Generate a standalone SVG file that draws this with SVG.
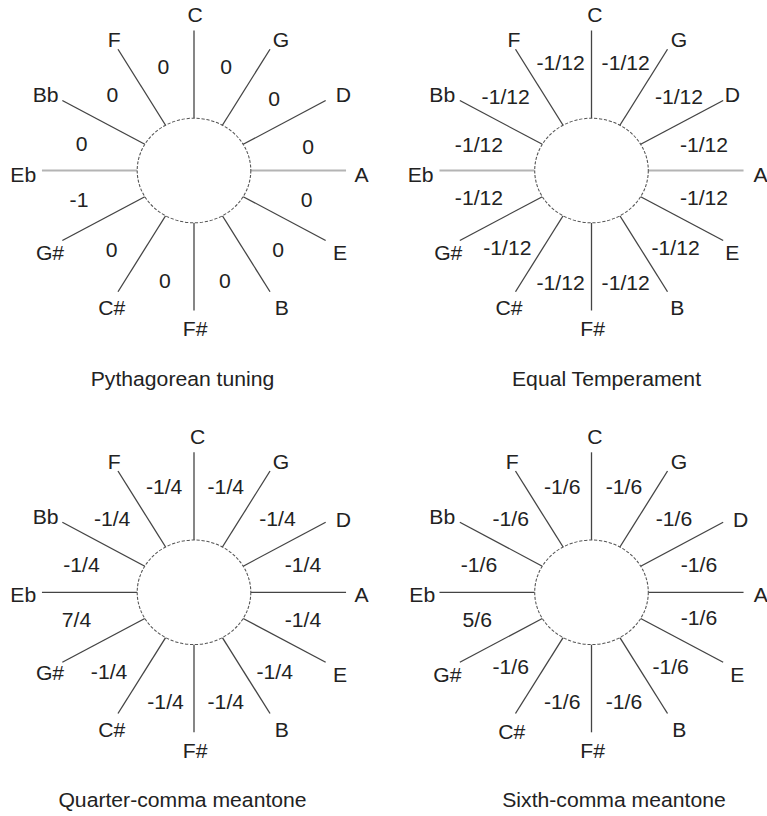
<svg xmlns="http://www.w3.org/2000/svg" width="767" height="816" viewBox="0 0 767 816">
  <style>
    text { font-family: "Liberation Sans", Arial, sans-serif; font-size: 19.5px; fill: #222; text-anchor: middle; }
    .hub { fill: #fff; stroke: #555; stroke-width: 1; stroke-dasharray: 3 1.6; }
    .spoke { stroke: #444; stroke-width: 1.2; fill: none; }
    .axis-light { stroke: #b4b4b4; stroke-width: 2.2; fill: none; }
    .axis-dark { stroke: #444; stroke-width: 1.2; fill: none; }
  </style>
  <defs>
    <!-- eleven spokes of the circle of fifths (the Eb–A axis is drawn separately) -->
    <g id="spokes">
      <line x1="0" y1="-52.3" x2="0" y2="-140"/>
      <line x1="26.15" y1="-45.29" x2="70" y2="-121.24"/>
      <line x1="45.29" y1="-26.15" x2="121.24" y2="-70"/>
      <line x1="45.29" y1="26.15" x2="121.24" y2="70"/>
      <line x1="26.15" y1="45.29" x2="70" y2="121.24"/>
      <line x1="0" y1="52.3" x2="0" y2="140"/>
      <line x1="-26.15" y1="45.29" x2="-70" y2="121.24"/>
      <line x1="-45.29" y1="26.15" x2="-121.24" y2="70"/>
      <line x1="-45.29" y1="-26.15" x2="-121.24" y2="-70"/>
      <line x1="-26.15" y1="-45.29" x2="-70" y2="-121.24"/>
    </g>
    <path id="axis" d="M-140 0H-52.3M52.3 0H140"/>
  </defs>

  <!-- Pythagorean tuning -->
  <g id="pythagorean" transform="translate(194 170.5) scale(1.086 1)">
    <g class="connectors">
      <use href="#spokes" class="spoke"/>
      <use href="#axis" class="axis-light"/>
    </g>
    <circle class="hub" r="52.3"/>
    <g class="notes">
      <text x="1" y="-149">C</text>
      <text x="-73.4" y="-123.8">F</text>
      <text x="80.1" y="-123.8">G</text>
      <text x="-136.6" y="-68.8">Bb</text>
      <text x="137.5" y="-68.8">D</text>
      <text x="-157.2" y="11.2">Eb</text>
      <text x="154.4" y="11.2">A</text>
      <text x="-132.6" y="89.5">G#</text>
      <text x="134.4" y="89.5">E</text>
      <text x="-75.8" y="144.5">C#</text>
      <text x="80.8" y="144.5">B</text>
      <text x="1" y="166">F#</text>
    </g>
    <g class="fifths">
      <text x="-28.3" y="-96.8">0</text>
      <text x="29.5" y="-96.8">0</text>
      <text x="-75.2" y="-68.5">0</text>
      <text x="73.9" y="-65">0</text>
      <text x="-103.4" y="-20">0</text>
      <text x="105.2" y="-16.8">0</text>
      <text x="-105.9" y="36.5">-1</text>
      <text x="103.8" y="36.5">0</text>
      <text x="-75.8" y="86.5">0</text>
      <text x="77.6" y="86.5">0</text>
      <text x="-26.7" y="117.5">0</text>
      <text x="28.5" y="117.5">0</text>
    </g>
  </g>

  <!-- Equal temperament -->
  <g id="equal" transform="translate(591.5 170.5) scale(1.086 1)">
    <g class="connectors">
      <use href="#spokes" class="spoke"/>
      <use href="#axis" class="axis-light"/>
    </g>
    <circle class="hub" r="52.3"/>
    <g class="notes">
      <text x="3.2" y="-149">C</text>
      <text x="-71.4" y="-123.8">F</text>
      <text x="80.6" y="-123.8">G</text>
      <text x="-137.4" y="-68.8">Bb</text>
      <text x="129.7" y="-68.8">D</text>
      <text x="-157.3" y="11.2">Eb</text>
      <text x="155.6" y="11.2">A</text>
      <text x="-131.9" y="89.5">G#</text>
      <text x="129.7" y="89.5">E</text>
      <text x="-76" y="144.5">C#</text>
      <text x="79" y="144.5">B</text>
      <text x="1" y="166">F#</text>
    </g>
    <g class="fifths">
      <text x="-28.4" y="-100.2">-1/12</text>
      <text x="31.5" y="-100.2">-1/12</text>
      <text x="-79" y="-66.8">-1/12</text>
      <text x="80.6" y="-66.8">-1/12</text>
      <text x="-103.6" y="-18.5">-1/12</text>
      <text x="103.6" y="-18.5">-1/12</text>
      <text x="-103.6" y="34.8">-1/12</text>
      <text x="103.6" y="34.8">-1/12</text>
      <text x="-77.5" y="84.8">-1/12</text>
      <text x="77.5" y="84.8">-1/12</text>
      <text x="-28.4" y="119.8">-1/12</text>
      <text x="31.5" y="119.8">-1/12</text>
    </g>
  </g>

  <!-- Quarter-comma meantone -->
  <g id="quarter-comma" transform="translate(194 592.3) scale(1.086 1)">
    <g class="connectors">
      <use href="#spokes" class="spoke"/>
      <use href="#axis" class="axis-dark"/>
    </g>
    <circle class="hub" r="52.3"/>
    <g class="notes">
      <text x="3.4" y="-148.6">C</text>
      <text x="-73.4" y="-123.6">F</text>
      <text x="80.1" y="-123.6">G</text>
      <text x="-136.6" y="-68.6">Bb</text>
      <text x="137.5" y="-65.3">D</text>
      <text x="-157.2" y="9.7">Eb</text>
      <text x="154.4" y="9.7">A</text>
      <text x="-132.6" y="88">G#</text>
      <text x="134.4" y="89.7">E</text>
      <text x="-75.8" y="144.5">C#</text>
      <text x="80.8" y="144.5">B</text>
      <text x="1" y="166">F#</text>
    </g>
    <g class="fifths">
      <text x="-27.5" y="-98">-1/4</text>
      <text x="29.3" y="-98">-1/4</text>
      <text x="-75.4" y="-66">-1/4</text>
      <text x="76.9" y="-66">-1/4</text>
      <text x="-103.6" y="-20.3">-1/4</text>
      <text x="100.4" y="-20.3">-1/4</text>
      <text x="-108.2" y="34.7">7/4</text>
      <text x="100.4" y="34.7">-1/4</text>
      <text x="-78.2" y="86.4">-1/4</text>
      <text x="74.4" y="86.4">-1/4</text>
      <text x="-26.2" y="116.4">-1/4</text>
      <text x="29.3" y="116.4">-1/4</text>
    </g>
  </g>

  <!-- Sixth-comma meantone -->
  <g id="sixth-comma" transform="translate(591.5 592.3) scale(1.086 1)">
    <g class="connectors">
      <use href="#spokes" class="spoke"/>
      <use href="#axis" class="axis-dark"/>
    </g>
    <circle class="hub" r="52.3"/>
    <g class="notes">
      <text x="3.2" y="-148.6">C</text>
      <text x="-72.9" y="-123.6">F</text>
      <text x="80.6" y="-123.6">G</text>
      <text x="-137.4" y="-68.6">Bb</text>
      <text x="137.4" y="-65.3">D</text>
      <text x="-155.8" y="9.7">Eb</text>
      <text x="155.8" y="9.7">A</text>
      <text x="-132.8" y="89.7">G#</text>
      <text x="134.3" y="89.7">E</text>
      <text x="-73.5" y="146.4">C#</text>
      <text x="80.8" y="144.5">B</text>
      <text x="1" y="166">F#</text>
    </g>
    <g class="fifths">
      <text x="-26.9" y="-98">-1/6</text>
      <text x="29.9" y="-98">-1/6</text>
      <text x="-74.4" y="-66">-1/6</text>
      <text x="76" y="-66">-1/6</text>
      <text x="-103.6" y="-20.3">-1/6</text>
      <text x="99" y="-20.3">-1/6</text>
      <text x="-105.2" y="34.7">5/6</text>
      <text x="99" y="33">-1/6</text>
      <text x="-74.4" y="81.4">-1/6</text>
      <text x="72.9" y="81.4">-1/6</text>
      <text x="-26.9" y="116.4">-1/6</text>
      <text x="29.9" y="116.4">-1/6</text>
    </g>
  </g>

  <!-- captions -->
  <g id="captions">
    <text transform="translate(182.5 385.5) scale(1.086 1)">Pythagorean tuning</text>
    <text transform="translate(606.5 385.5) scale(1.086 1)">Equal Temperament</text>
    <text transform="translate(182.5 807) scale(1.086 1)">Quarter-comma meantone</text>
    <text transform="translate(614 807) scale(1.086 1)">Sixth-comma meantone</text>
  </g>
</svg>
